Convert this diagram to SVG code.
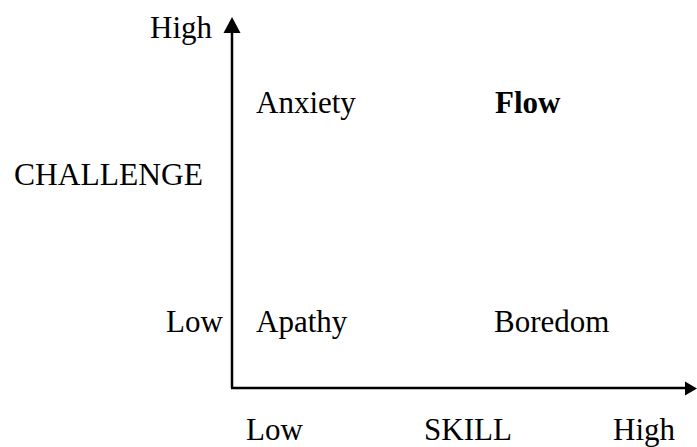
<svg xmlns="http://www.w3.org/2000/svg" width="697" height="447" viewBox="0 0 697 447">
<style>
text{font-family:"Liberation Serif","Times New Roman",serif;font-size:31px;fill:#000}
.b{font-weight:bold}
.ax{stroke:#000;stroke-width:2.5;fill:none}
.ah{fill:#000;stroke:none}
</style>
<rect width="697" height="447" fill="#fff"/>
<g id="connectors">
<line class="ax" x1="232" y1="30" x2="232" y2="388"/>
<line class="ax" x1="231" y1="388" x2="688" y2="388"/>
<polygon class="ah" points="232,17 223.5,33 240.5,33"/>
<polygon class="ah" points="697,388.5 685,381.5 685,395.5"/>
</g>
<g id="label-high-y"><text x="150" y="38">High</text></g>
<g id="label-challenge"><text x="14" y="185" textLength="189" lengthAdjust="spacingAndGlyphs">CHALLENGE</text></g>
<g id="label-low-y"><text x="166" y="332">Low</text></g>
<g id="node-anxiety"><text x="256" y="113">Anxiety</text></g>
<g id="node-flow"><text class="b" x="495" y="113">Flow</text></g>
<g id="node-apathy"><text x="256" y="332">Apathy</text></g>
<g id="node-boredom"><text x="494" y="332">Boredom</text></g>
<g id="label-low-x"><text x="246" y="440">Low</text></g>
<g id="label-skill"><text x="424" y="440">SKILL</text></g>
<g id="label-high-x"><text x="613" y="440">High</text></g>
</svg>
